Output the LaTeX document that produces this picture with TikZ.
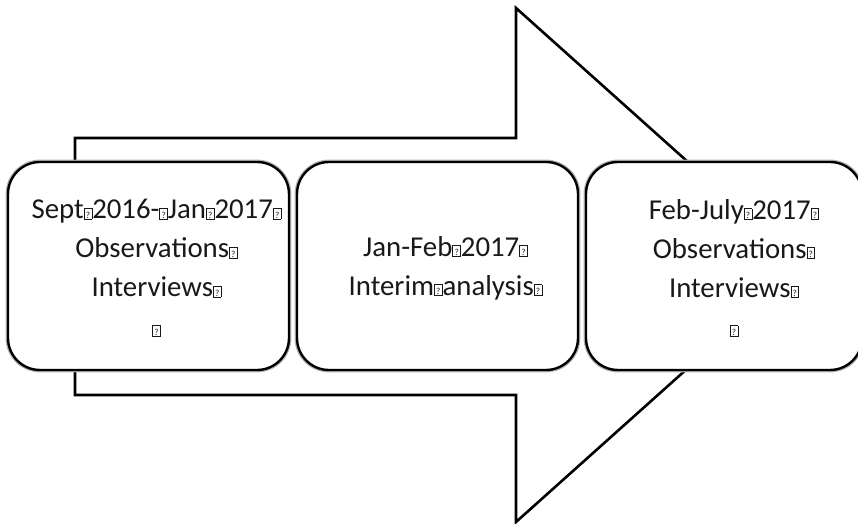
\documentclass[tikz,border=0pt]{standalone}
\usepackage{fontspec}
\setmainfont{Carlito}
\newcommand\nochar{{\fboxsep=0.3pt\fboxrule=0.35pt\raisebox{0.3pt}{\fbox{\rule{0pt}{4.4pt}\fontsize{4.6}{4.6}\selectfont\kern0.4pt?\kern0.4pt}}}}

\begin{document}
\begin{tikzpicture}[x=0.5pt, y=-0.5pt,
                stagebox/.style={
                    draw, line width=1.2pt, rounded corners=16pt, fill=white,
                    minimum width=140.5pt, minimum height=104pt,
                    preaction={draw=black!30, line width=2.4pt}
                },
                stagetext/.style={
                    align=center, text=black!90, font=\fontsize{14.4}{19.5}\selectfont
                }
            ]
            \useasboundingbox (0,0) rectangle (858,524);

            % big arrow behind
            \draw[line width=1.3pt, fill=white] (75,138) -- (516,138) -- (516,8) -- (803,265)
                -- (516,522) -- (516,395) -- (75,395) -- cycle;

            % nodes
            \node[stagebox] (s1) at (148.5,266) {};
            \node[stagebox] (s2) at (437.5,266) {};
            \node[stagebox, minimum width=138pt] (s3) at (724,266) {};

            \node[stagetext] (t1) at ([xshift=4pt, yshift=-1pt]s1.center)
                {Sept\nochar2016-\nochar Jan\nochar2017\nochar\\ Observations\nochar\\ Interviews\nochar\\ \nochar};
            \node[stagetext] (t2) at ([xshift=4pt, yshift=-1pt]s2.center)
                {Jan-Feb\nochar2017\nochar\\ Interim\nochar analysis\nochar};
            \node[stagetext] (t3) at ([xshift=5pt, yshift=-1pt]s3.center)
                {Feb-July\nochar2017\nochar\\ Observations\nochar\\ Interviews\nochar\\ \nochar};
            \end{tikzpicture}
\end{document}
